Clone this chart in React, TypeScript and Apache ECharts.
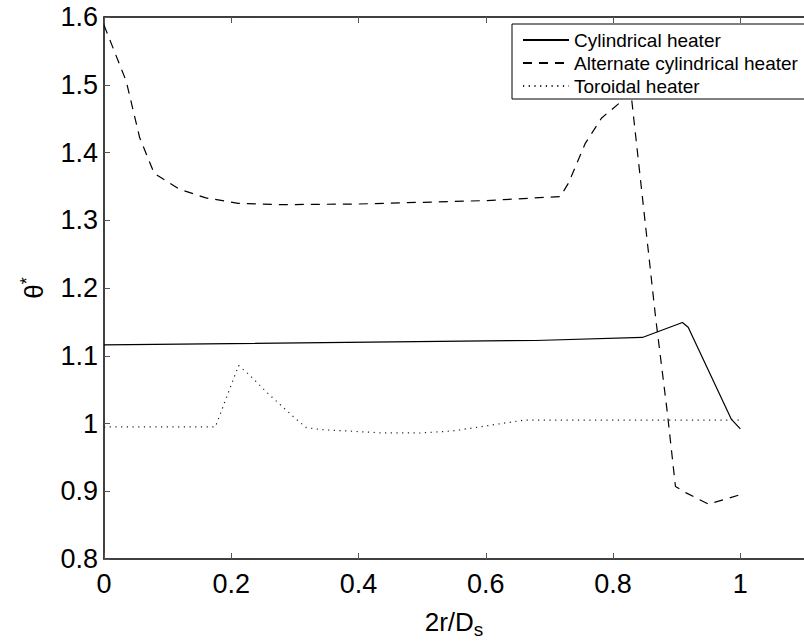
import React, { useEffect, useRef } from "react";
import * as echarts from "echarts";

const cylX = [0, 0.6, 0.678, 0.846, 0.909, 0.918, 0.986, 1.0];
const cylY = [1.116, 1.122, 1.1225, 1.127, 1.149, 1.142, 1.006, 0.992];

const altX = [0, 0.035, 0.056, 0.079, 0.118, 0.16, 0.211, 0.279, 0.4, 0.6, 0.717, 0.73, 0.756, 0.782, 0.81, 0.824, 0.829, 0.867, 0.885, 0.898, 0.914, 0.95, 1.0];
const altY = [1.588, 1.505, 1.422, 1.369, 1.346, 1.333, 1.325, 1.323, 1.324, 1.329, 1.335, 1.355, 1.413, 1.451, 1.473, 1.488, 1.48, 1.155, 1.018, 0.907, 0.898, 0.881, 0.895];

const torX = [0, 0.175, 0.2115, 0.227, 0.258, 0.3, 0.318, 0.341, 0.434, 0.497, 0.548, 0.59, 0.66, 1.0];
const torY = [0.995, 0.995, 1.0855, 1.073, 1.044, 1.008, 0.994, 0.991, 0.9863, 0.986, 0.989, 0.995, 1.005, 1.005];

const seriesNames = ["Cylindrical heater", "Alternate cylindrical heater", "Toroidal heater"];

const zip = (xs: number[], ys: number[]) => xs.map((x, i) => [x, ys[i]]);

const FONT = "'Liberation Sans', Arial, Helvetica, sans-serif";

export default function App() {
  const ref = useRef<HTMLDivElement>(null);
  useEffect(() => {
    if (!ref.current) return;
    const chart = echarts.init(ref.current, null, { renderer: "svg" });
    const tickStyle = { show: true, inside: true, length: 6, lineStyle: { color: "#555", width: 1 } };
    chart.setOption({
      animation: false,
      backgroundColor: "#fff",
      grid: { left: 104, top: 17, right: -7, bottom: 73 },
      legend: {
        data: seriesNames,
        orient: "vertical",
        left: 512,
        top: 24,
        padding: [6, 10, 3, 10],
        itemGap: 3,
        itemWidth: 46,
        itemHeight: 20,
        backgroundColor: "#fff",
        borderColor: "#000",
        borderWidth: 1,
        borderRadius: 0,
        itemStyle: { color: "transparent", borderWidth: 0 },
        textStyle: { fontFamily: FONT, fontSize: 19, color: "#000", lineHeight: 20 },
        z: 10,
      },
      xAxis: [
        {
          type: "value",
          min: 0,
          max: 1.1,
          interval: 0.2,
          position: "bottom",
          name: "2r/D{sub|s}",
          nameLocation: "middle",
          nameGap: 45,
          nameTextStyle: {
            fontFamily: FONT,
            fontSize: 26,
            color: "#000",
            rich: {
              sub: { fontFamily: FONT, fontSize: 19, color: "#000", padding: [16, 0, 0, 0] },
            },
          },
          axisLine: { show: true, lineStyle: { color: "#000", width: 1.5 } },
          axisTick: tickStyle,
          splitLine: { show: false },
          axisLabel: { fontFamily: FONT, fontSize: 27, color: "#000", margin: 11, showMaxLabel: false },
        },
        {
          type: "value",
          min: 0,
          max: 1.1,
          interval: 0.2,
          position: "top",
          axisLine: { show: true, lineStyle: { color: "#000", width: 1.5 } },
          axisTick: tickStyle,
          splitLine: { show: false },
          axisLabel: { show: false },
        },
      ],
      yAxis: [
        {
          type: "value",
          min: 0.8,
          max: 1.6,
          interval: 0.1,
          name: "θ{sup|*}",
          nameLocation: "middle",
          nameGap: 54,
          nameRotate: 90,
          nameTextStyle: {
            fontFamily: FONT,
            fontSize: 26,
            color: "#000",
            rich: {
              sup: { fontFamily: FONT, fontSize: 18, color: "#000", padding: [0, 0, 14, 0] },
            },
          },
          axisLine: { show: true, lineStyle: { color: "#000", width: 1.5 } },
          axisTick: tickStyle,
          splitLine: { show: false },
          axisLabel: { fontFamily: FONT, fontSize: 27, color: "#000", margin: 6 },
        },
      ],
      series: [
        {
          name: seriesNames[0],
          type: "line",
          data: zip(cylX, cylY),
          symbol: "none",
          lineStyle: { color: "#000", width: 1.2, type: "solid" },
          itemStyle: { color: "#000" },
          z: 3,
        },
        {
          name: seriesNames[1],
          type: "line",
          data: zip(altX, altY),
          symbol: "none",
          lineStyle: { color: "#000", width: 1.2, type: [9, 7] },
          itemStyle: { color: "#000" },
          z: 3,
        },
        {
          name: seriesNames[2],
          type: "line",
          data: zip(torX, torY),
          symbol: "none",
          lineStyle: { color: "#222", width: 1.2, type: [1.2, 4.5] },
          itemStyle: { color: "#222" },
          z: 3,
        },
      ],
    });
    return () => chart.dispose();
  }, []);
  return (
    <div
      ref={ref}
      style={{ position: "absolute", left: 0, top: 0, width: 804, height: 644 }}
    />
  );
}
